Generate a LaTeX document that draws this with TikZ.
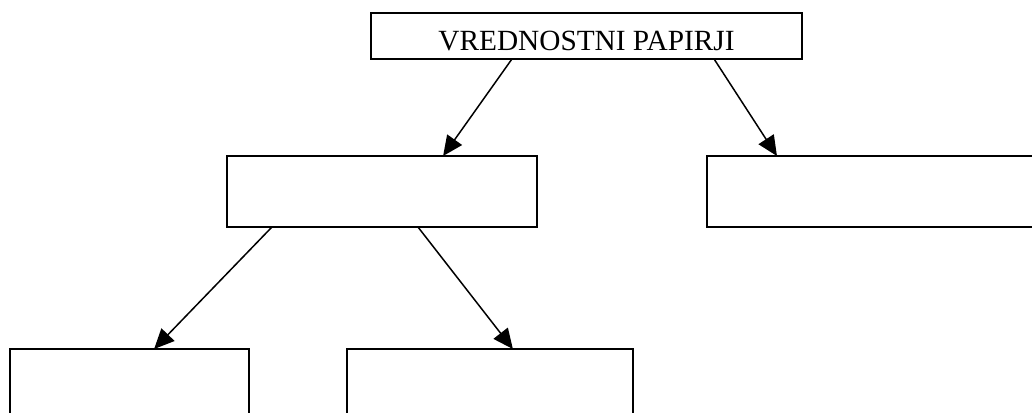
\documentclass[tikz,border=0pt]{standalone}
\usepackage{fontspec}
\setmainfont{Liberation Serif}
\usepackage{tikz}
\usetikzlibrary{arrows.meta}
\usetikzlibrary{calc}

\begin{document}
\begin{tikzpicture}[x=1pt,y=-1pt,
    box/.style={draw,line width=2pt,anchor=north west,inner sep=0pt,outer sep=0pt},
    link/.style={line width=1.5pt,-{Triangle[length=20pt,width=18pt]}}]
  \useasboundingbox (0,0) rectangle (1032,412);
  \clip (0,0) rectangle (1032,412);
  \node[box,minimum width=431pt,minimum height=46pt,text height=28pt,text depth=0pt,
    font=\fontsize{29.3}{29}\selectfont] (papirji) at (371,13) {VREDNOSTNI PAPIRJI};
  \node[box,minimum width=310pt,minimum height=71pt] (lbox) at (227,156) {};
  \node[box,minimum width=343pt,minimum height=71pt] (rbox) at (707,156) {};
  \node[box,minimum width=239pt,minimum height=110pt] (llbox) at (10,349) {};
  \node[box,minimum width=286pt,minimum height=110pt] (lrbox) at (347,349) {};
  \draw[link] ($(papirji.south west)!0.327!(papirji.south east)$) -- ($(lbox.north west)!0.697!(lbox.north east)$);
  \draw[link] ($(papirji.south west)!0.796!(papirji.south east)$) -- ($(rbox.north west)!0.204!(rbox.north east)$);
  \draw[link] ($(lbox.south west)!0.145!(lbox.south east)$) -- ($(llbox.north west)!0.603!(llbox.north east)$);
  \draw[link] ($(lbox.south west)!0.616!(lbox.south east)$) -- ($(lrbox.north west)!0.580!(lrbox.north east)$);
\end{tikzpicture}
\end{document}
